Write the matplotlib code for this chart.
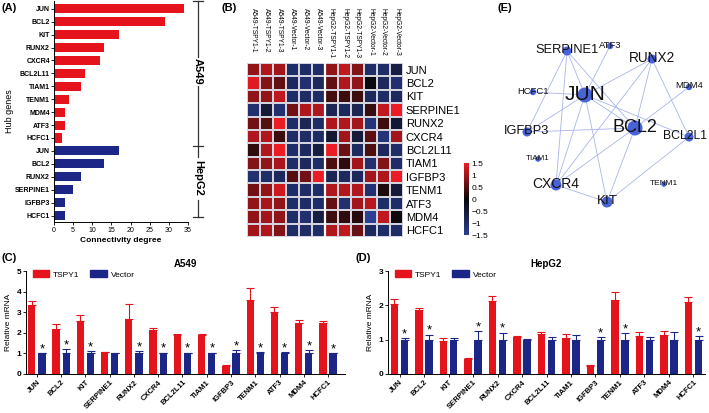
import numpy as np
import matplotlib
matplotlib.use('Agg')
import matplotlib.pyplot as plt
from matplotlib.colors import LinearSegmentedColormap
from matplotlib.patches import Patch
from matplotlib.transforms import blended_transform_factory

plt.rcParams['font.family'] = ['Liberation Sans', 'DejaVu Sans']
plt.rcParams['axes.unicode_minus'] = True

# ---------------- data ----------------
# (A) hub genes / connectivity degree
hub_a549 = ['JUN', 'BCL2', 'KIT', 'RUNX2', 'CXCR4', 'BCL2L11', 'TIAM1', 'TENM1', 'MDM4', 'ATF3', 'HCFC1']
deg_a549 = [34, 29, 17, 13, 12, 8, 7, 4, 3, 3, 2]
hub_hep = ['JUN', 'BCL2', 'RUNX2', 'SERPINE1', 'IGFBP3', 'HCFC1']
deg_hep = [17, 13, 7, 5, 3, 3]

# (B) heatmap (z-scores)
heat_rows = ['JUN', 'BCL2', 'KIT', 'SERPINE1', 'RUNX2', 'CXCR4', 'BCL2L11', 'TIAM1',
             'IGFBP3', 'TENM1', 'ATF3', 'MDM4', 'HCFC1']
heat_cols = ['A549-TSPY1-1', 'A549-TSPY1-2', 'A549-TSPY1-3', 'A549-Vector-1', 'A549-Vector-2', 'A549-Vector-3',
             'HepG2-TSPY1-1', 'HepG2-TSPY1-2', 'HepG2-TSPY1-3', 'HepG2-Vector-1', 'HepG2-Vector-2', 'HepG2-Vector-3']
heat_vals = [
    [0.9, 1.1, 1.0, -1.0, -1.0, -1.0, 0.9, 1.2, 0.8, -1.0, -1.0, -0.6],
    [1.4, 0.8, 0.6, -0.9, -1.1, -0.9, 0.6, 1.1, 0.9, -0.05, -0.9, -1.1],
    [0.9, 0.9, 1.2, -1.0, -1.0, -1.0, 0.4, 0.35, 0.35, -0.9, -1.0, -0.9],
    [-1.1, -0.5, -1.1, 0.7, 1.1, 1.1, -0.8, -0.9, -0.8, 0.3, 1.2, 1.6],
    [0.7, 0.5, 1.5, -1.0, -0.8, -1.0, 1.1, 1.1, 1.0, -1.2, 0.35, -0.45],
    [1.1, 1.1, 0.35, -1.0, -1.0, -1.0, -0.45, 1.0, -0.5, 0.55, -1.2, 1.0],
    [0.25, 1.1, 1.6, -1.0, -0.9, -0.6, 1.5, 0.65, -0.95, 0.45, -0.9, -1.0],
    [0.8, 0.9, 1.05, -1.0, -0.9, -1.0, 0.45, 0.25, 1.0, -1.1, 0.8, -1.0],
    [-1.1, -1.0, -0.9, 0.5, 0.7, 1.5, -0.8, -0.9, -0.9, 1.0, 1.1, 1.6],
    [0.7, 0.9, 1.3, -1.0, -1.0, -1.0, 1.1, 1.1, 1.1, -1.1, 0.15, -0.5],
    [0.9, 1.05, 0.9, -1.0, -1.0, -1.0, 0.6, -1.1, 1.0, 1.15, -1.0, -1.0],
    [0.9, 1.0, 0.9, -1.0, -1.1, -0.6, 0.35, 0.25, 0.2, -1.6, 1.2, 0.05],
    [1.0, 1.1, 0.8, -1.0, -1.0, -1.0, 1.1, 1.2, 0.65, -0.9, -1.0, -1.0],
]

# (C)/(D) qPCR
qpcr_genes = ['JUN', 'BCL2', 'KIT', 'SERPINE1', 'RUNX2', 'CXCR4', 'BCL2L11', 'TIAM1',
              'IGFBP3', 'TENM1', 'ATF3', 'MDM4', 'HCFC1']
a549_tspy1 = [3.35, 2.18, 2.55, 1.05, 2.68, 2.15, 1.88, 1.88, 0.38, 3.6, 3.0, 2.47, 2.5]
a549_tspy1_err = [0.18, 0.25, 0.33, 0.03, 0.72, 0.08, 0.08, 0.08, 0.06, 0.57, 0.25, 0.13, 0.06]
a549_vector = [1.0] * 13
a549_vector_err = [0.0, 0.22, 0.12, 0.0, 0.1, 0.03, 0.03, 0.03, 0.15, 0.05, 0.07, 0.15, 0.02]
a549_sig = [1, 1, 1, 0, 1, 1, 1, 1, 1, 1, 1, 1, 1]

hep_tspy1 = [2.05, 1.85, 0.96, 0.45, 2.13, 1.08, 1.16, 1.05, 0.23, 2.15, 1.12, 1.13, 2.1]
hep_tspy1_err = [0.12, 0.07, 0.1, 0.02, 0.15, 0.04, 0.05, 0.11, 0.04, 0.23, 0.11, 0.12, 0.14]
hep_vector = [1.0] * 13
hep_vector_err = [0.04, 0.15, 0.05, 0.25, 0.2, 0.02, 0.08, 0.13, 0.07, 0.18, 0.07, 0.22, 0.1]
hep_sig = [1, 1, 0, 1, 1, 0, 0, 0, 1, 1, 0, 0, 1]

# (E) network layout
net_nodes = ['JUN', 'BCL2', 'SERPINE1', 'RUNX2', 'CXCR4', 'KIT', 'IGFBP3', 'BCL2L1',
             'HCFC1', 'ATF3', 'MDM4', 'TIAM1', 'TENM1']
net_x = [585, 635, 567, 652, 556, 607, 527, 689, 533, 610, 689, 538, 664]
net_y = [95, 128, 51, 59, 185, 202, 132, 137, 92, 46, 87, 159, 184]
net_edges = [('SERPINE1', 'JUN'), ('SERPINE1', 'BCL2'), ('SERPINE1', 'IGFBP3'), ('SERPINE1', 'CXCR4'),
             ('ATF3', 'JUN'), ('RUNX2', 'JUN'), ('RUNX2', 'BCL2'), ('RUNX2', 'BCL2L1'), ('RUNX2', 'CXCR4'),
             ('HCFC1', 'JUN'), ('JUN', 'IGFBP3'), ('JUN', 'BCL2'), ('JUN', 'BCL2L1'), ('JUN', 'CXCR4'),
             ('JUN', 'KIT'), ('MDM4', 'BCL2'), ('IGFBP3', 'BCL2'), ('BCL2', 'CXCR4'), ('BCL2', 'KIT'),
             ('BCL2L1', 'KIT'), ('CXCR4', 'KIT')]

RED = '#e5131c'
NAVY = '#1c2686'

W, H = 709, 413
fig = plt.figure(figsize=(W / 100, H / 100), dpi=100)


def rect(l, t, r, b):
    return [l / W, 1 - b / H, (r - l) / W, (b - t) / H]


# ---------------- (A) ----------------
axA = fig.add_axes(rect(54, 1, 188, 222))
names = hub_a549 + hub_hep
degs = deg_a549 + deg_hep
cols = [RED] * len(hub_a549) + [NAVY] * len(hub_hep)
yy = np.arange(len(names))
axA.barh(yy, degs, height=0.7, color=cols)
axA.set_ylim(16.5, -0.6)
axA.set_xlim(0, 35)
axA.set_xticks(range(0, 36, 5))
axA.set_yticks(yy)
axA.set_yticklabels(names, fontsize=5, fontweight='bold')
axA.tick_params(axis='x', labelsize=5, length=2, width=0.6, pad=1.5)
axA.tick_params(axis='y', length=2, width=0.6, pad=1)
for s in ['top', 'right']:
    axA.spines[s].set_visible(False)
for s in ['left', 'bottom']:
    axA.spines[s].set_linewidth(0.7)
axA.set_xlabel('Connectivity degree', fontsize=6, fontweight='bold', labelpad=2)
axA.set_ylabel('Hub genes', fontsize=6.5)
axA.yaxis.set_label_coords(-0.30, 0.5)

# ---------------- (B) ----------------
cmap = LinearSegmentedColormap.from_list('bkr', ['#2b3f94', '#080808', '#ec1c24'])
axB = fig.add_axes(rect(247, 63, 403, 237))
hv = np.array(heat_vals)
mesh = axB.pcolormesh(hv, cmap=cmap, vmin=-1.5, vmax=1.5, edgecolors='#d4d4de', linewidth=0.25)
axB.set_xlim(0, hv.shape[1])
axB.set_ylim(hv.shape[0], 0)
axB.axvline(6, color='white', lw=1.6)
axB.set_xticks([])
axB.yaxis.tick_right()
axB.set_yticks(np.arange(hv.shape[0]) + 0.5)
axB.set_yticklabels(heat_rows, fontsize=8)
axB.tick_params(axis='y', length=0, pad=2)
for s in axB.spines.values():
    s.set_visible(False)
tr = blended_transform_factory(axB.transData, axB.transAxes)
for j, lab in enumerate(heat_cols):
    axB.text(j + 0.5, (237 - 8) / (237 - 63), lab, transform=tr, rotation=270,
             ha='center', va='top', fontsize=4.8)

cax = fig.add_axes(rect(464, 163, 469, 235))
cb = fig.colorbar(mesh, cax=cax, ticks=[1.5, 1, 0.5, 0, -0.5, -1, -1.5])
cb.ax.set_yticklabels(['1.5', '1', '0.5', '0', '\u22120.5', '\u22121', '\u22121.5'])
cb.ax.tick_params(length=0, labelsize=6, pad=2)
cb.outline.set_visible(False)

# ---------------- (C) and (D) ----------------
def qpcr(ax, tspy, tspy_err, vec, vec_err, sig, ymax, title):
    x = np.arange(len(qpcr_genes))
    off, bw = 0.21, 0.3
    ax.bar(x - off, tspy, bw, color=RED, label='TSPY1', zorder=2)
    ax.bar(x + off, vec, bw, color=NAVY, label='Vector', zorder=2)
    z = np.zeros(len(x))
    ax.errorbar(x - off, tspy, yerr=[z, tspy_err], fmt='none', ecolor=RED,
                elinewidth=0.8, capsize=2.8, capthick=0.8, zorder=1)
    ax.errorbar(x + off, vec, yerr=[z, vec_err], fmt='none', ecolor=NAVY,
                elinewidth=0.8, capsize=2.8, capthick=0.8, zorder=1)
    for i in range(len(x)):
        if sig[i]:
            ax.annotate('*', (x[i] + off, vec[i] + vec_err[i]), xytext=(0, -1.5),
                        textcoords='offset points', ha='center', va='bottom', fontsize=9.5)
    ax.set_ylim(0, ymax)
    ax.set_yticks(range(0, ymax + 1))
    ax.set_xticks(x)
    ax.set_xticklabels(qpcr_genes, rotation=45, ha='right', rotation_mode='anchor',
                       fontsize=5.5, fontweight='bold')
    ax.tick_params(axis='x', length=2, width=0.6, pad=1.5)
    ax.tick_params(axis='y', length=2, width=0.6, pad=1.5, labelsize=6)
    for lab in ax.get_yticklabels():
        lab.set_fontweight('bold')
    for s in ['top', 'right']:
        ax.spines[s].set_visible(False)
    for s in ['left', 'bottom']:
        ax.spines[s].set_linewidth(0.7)
    ax.set_ylabel('Relative mRNA', fontsize=6, labelpad=3)
    ax.set_title(title, fontsize=7, fontweight='bold', pad=3)
    ax.legend(handles=[Patch(color=RED, label='TSPY1'), Patch(color=NAVY, label='Vector')],
              loc='upper left', bbox_to_anchor=(0.01, 1.04), ncol=2, frameon=False,
              fontsize=6, handlelength=2.0, handleheight=0.9, columnspacing=1.2,
              handletextpad=0.5, borderaxespad=0)


axC = fig.add_axes(rect(26, 271, 345, 374))
qpcr(axC, a549_tspy1, a549_tspy1_err, a549_vector, a549_vector_err, a549_sig, 5, 'A549')
axC.set_xlim(-0.45, 12.7)

axD = fig.add_axes(rect(388, 271, 705, 374))
qpcr(axD, hep_tspy1, hep_tspy1_err, hep_vector, hep_vector_err, hep_sig, 3, 'HepG2')
axD.set_xlim(-0.47, 12.47)

# ---------------- (E) network ----------------
axE = fig.add_axes(rect(480, 15, 709, 230))
axE.set_xlim(480, 709)
axE.set_ylim(230, 15)
axE.axis('off')
node_r = [7.5, 7.5, 4.5, 4.5, 5.5, 5.5, 4.5, 4.5, 3.2, 3.2, 3.2, 2.8, 2.8]
label_fs = [15, 13, 9.3, 9.8, 10, 9.6, 9.3, 8.8, 6.8, 6.8, 6.8, 5.9, 6.0]
label_dx = [0, 0, 0, 0, 0, 0, 0, -4, 0, 0, 0, 0, 0]
pos = {n: (x, y) for n, x, y in zip(net_nodes, net_x, net_y)}
for a, b in net_edges:
    axE.plot([pos[a][0], pos[b][0]], [pos[a][1], pos[b][1]], color='#a9b5ea', lw=0.6, zorder=1)
axE.scatter(net_x, net_y, s=[(2 * r * 0.72) ** 2 for r in node_r], color='#4863d8',
            zorder=2, linewidths=0)
for n, x, y, fs, dx in zip(net_nodes, net_x, net_y, label_fs, label_dx):
    axE.text(x + dx, y - 1, n, ha='center', va='center', fontsize=fs, color='#111111',
             zorder=3, clip_on=False)

# ---------------- overlay: panel letters, bracket ----------------
ov = fig.add_axes([0, 0, 1, 1])
ov.set_xlim(0, W)
ov.set_ylim(H, 0)
ov.axis('off')
ov.patch.set_alpha(0)
for lab, x, y in [('(A)', 2, 8), ('(B)', 222, 8), ('(C)', 2, 258), ('(D)', 356, 258), ('(E)', 497, 8)]:
    ov.text(x, y, lab, fontsize=8, fontweight='bold', va='center', ha='left')
bk = dict(color='#333333', lw=0.9)
ov.plot([198, 198], [1, 57], **bk)
ov.plot([198, 198], [86, 157], **bk)
ov.plot([198, 198], [200, 217], **bk)
for yt in [1, 146, 217]:
    ov.plot([193, 203], [yt, yt], **bk)
ov.text(198, 71, 'A549', rotation=270, ha='center', va='center', fontsize=8, fontweight='bold')
ov.text(198, 178, 'HepG2', rotation=270, ha='center', va='center', fontsize=8, fontweight='bold')

fig.savefig('out.png', dpi=100)
